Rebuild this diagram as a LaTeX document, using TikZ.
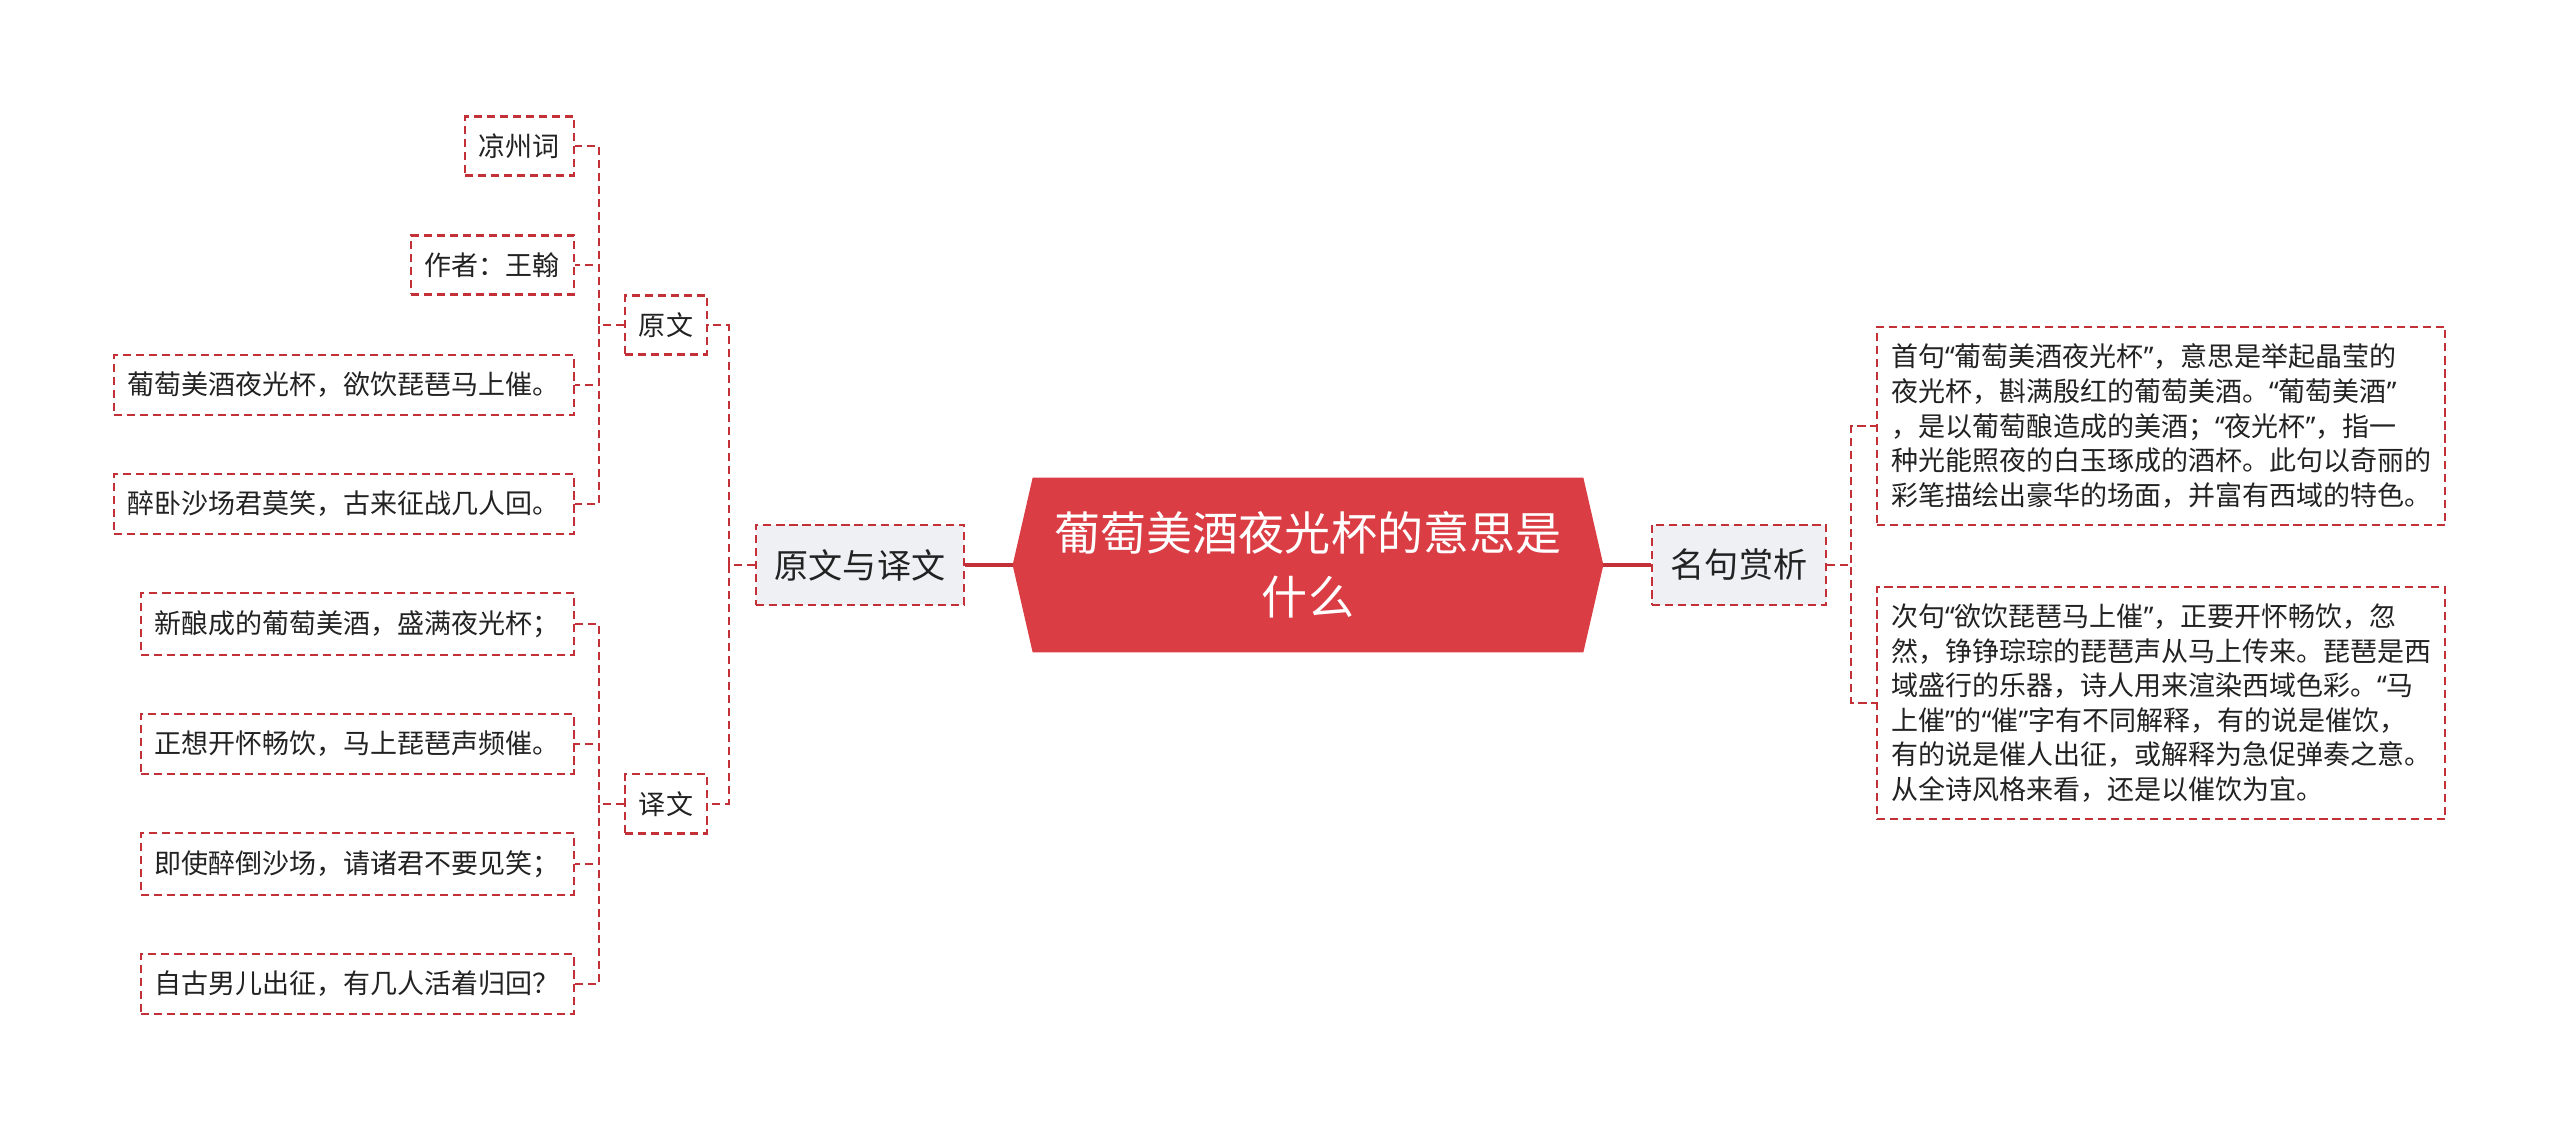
\documentclass[tikz,border=0pt]{standalone}
\usepackage{fontspec}
\setmainfont{Noto Sans CJK SC}
\newfontfamily\quotefont{Noto Sans}
\newcommand{\lquo}{{\quotefont “}}
\newcommand{\rquo}{{\quotefont ”}}
\usepackage{xcolor}
\usetikzlibrary{calc,positioning,backgrounds}
\definecolor{hexred}{RGB}{219,61,69}
\definecolor{dashred}{RGB}{196,48,56}
\definecolor{topgray}{RGB}{238,240,244}
\definecolor{inkgray}{RGB}{34,34,34}

\begin{document}
\begin{tikzpicture}[x=0.01cm,y=-0.01cm]
            \tikzstyle{every node}+=[inner sep=0pt]
            \tikzstyle{rootbox}=[text=white,align=center,minimum width=5.89cm,minimum height=1.73cm,font=\fontsize{13.1pt}{18.2pt}\selectfont]
            \tikzstyle{topbox}=[draw=dashred,fill=topgray,line width=0.6pt,dash pattern=on 2.3pt off 1.4pt,inner xsep=0.19cm,minimum height=0.8cm,text=inkgray,font=\fontsize{9.7pt}{12pt}\selectfont]
            \tikzstyle{leafbox}=[draw=dashred,fill=white,line width=0.6pt,dash pattern=on 2.3pt off 1.4pt,inner xsep=0.14cm,inner ysep=0.17cm,align=left,text=inkgray,font=\fontsize{7.68pt}{9.82pt}\selectfont]
            \tikzstyle{trunk}=[draw=dashred,line width=1.2pt]
            \tikzstyle{twig}=[draw=dashred,line width=0.6pt,dash pattern=on 2.3pt off 1.4pt]
            \useasboundingbox (0,0) rectangle (2560,1131);
            % centre
            \node [rootbox] (root) at (1308,565) {葡萄美酒夜光杯的意思是\\什么};
            \begin{pgfonlayer}{background}
            \fill [hexred] (root.west) -- ($(root.north west)+(20,0)$) -- ($(root.north east)+(-20,0)$) -- (root.east) -- ($(root.south east)+(-20,0)$) -- ($(root.south west)+(20,0)$) -- cycle;
            \end{pgfonlayer}
            % first level
            \node [topbox] (yw) at (860,565) {原文与译文};
            \node [topbox] (mj) at (1739,565) {名句赏析};
            \draw [trunk] (root.west) -- (yw.east);
            \draw [trunk] (root.east) -- (mj.west);
            % left side
            \node [leafbox] (yuan) at (666,325) {原文};
            \node [leafbox] (yi) at (666,804) {译文};
            \node [leafbox,anchor=east] (ya) at (575,146) {凉州词};
            \node [leafbox,anchor=east] (yb) at (575,265) {作者：王翰};
            \node [leafbox,anchor=east] (yc) at (575,385) {葡萄美酒夜光杯，欲饮琵琶马上催。};
            \node [leafbox,anchor=east] (yd) at (575,504) {醉卧沙场君莫笑，古来征战几人回。};
            \node [leafbox,anchor=east] (ta) at (575,624) {新酿成的葡萄美酒，盛满夜光杯；};
            \node [leafbox,anchor=east] (tb) at (575,744) {正想开怀畅饮，马上琵琶声频催。};
            \node [leafbox,anchor=east] (tc) at (575,864) {即使醉倒沙场，请诸君不要见笑；};
            \node [leafbox,anchor=east] (td) at (575,984) {自古男儿出征，有几人活着归回？};
            \foreach \n in {yuan,yi}
                \draw [twig] (yw.west) -- ++(-26,0) |- (\n.east);
            \foreach \n in {ya,yb,yc,yd}
                \draw [twig] (yuan.west) -- ++(-25,0) |- (\n.east);
            \foreach \n in {ta,tb,tc,td}
                \draw [twig] (yi.west) -- ++(-25,0) |- (\n.east);
            % right side
            \node [leafbox,anchor=west] (sa) at (1876,426) {首句\lquo 葡萄美酒夜光杯\rquo ，意思是举起晶莹的\\夜光杯，斟满殷红的葡萄美酒。\lquo 葡萄美酒\rquo\\，是以葡萄酿造成的美酒；\lquo 夜光杯\rquo ，指一\\种光能照夜的白玉琢成的酒杯。此句以奇丽的\\彩笔描绘出豪华的场面，并富有西域的特色。};
            \node [leafbox,anchor=west] (sb) at (1876,703) {次句\lquo 欲饮琵琶马上催\rquo ，正要开怀畅饮，忽\\然，铮铮琮琮的琵琶声从马上传来。琵琶是西\\域盛行的乐器，诗人用来渲染西域色彩。\lquo 马\\上催\rquo 的\lquo 催\rquo 字有不同解释，有的说是催饮，\\有的说是催人出征，或解释为急促弹奏之意。\\从全诗风格来看，还是以催饮为宜。};
            \foreach \n in {sa,sb}
                \draw [twig] (mj.east) -- ++(24,0) |- (\n.west);
\end{tikzpicture}
\end{document}
